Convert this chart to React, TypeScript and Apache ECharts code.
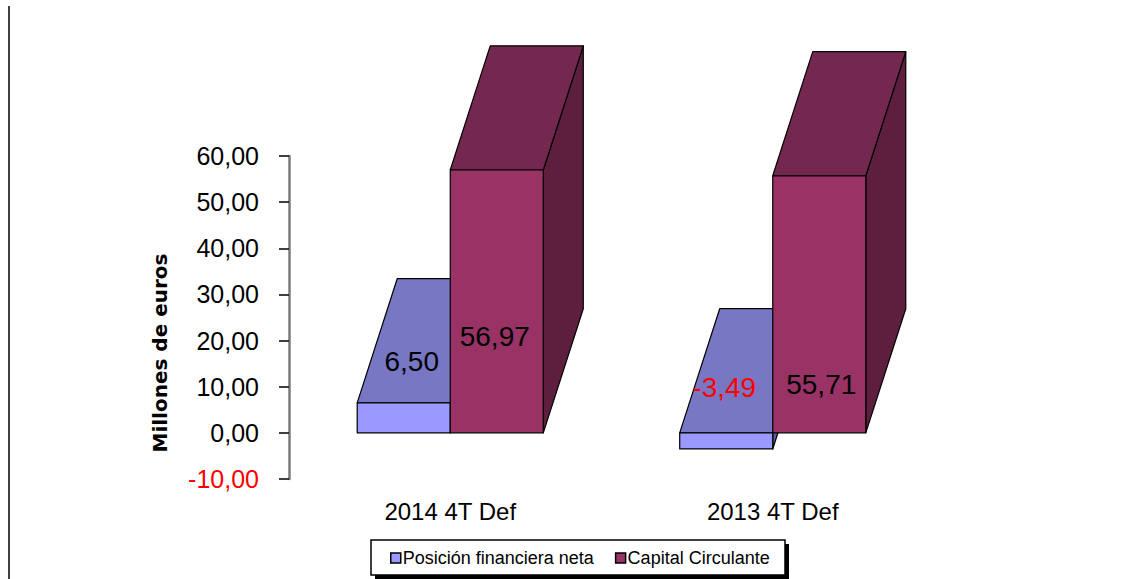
import React, { useEffect, useRef } from "react";
import * as echarts from "echarts";

// ---- data ----
const categories = ["2014 4T Def", "2013 4T Def"];
const posicionFinancieraNeta = [6.5, -3.49];
const capitalCirculante = [56.97, 55.71];
const seriesNames = ["Posición financiera neta", "Capital Circulante"];
const yAxisTitle = "Millones de euros";

// ---- styling ----
const FONT = "Liberation Sans";
const TITLE_FONT = "DejaVu Sans";
const BLUE = { front: "#9999FF", top: "#7777C4", side: "#5F5FA0" };
const PLUM = { front: "#993366", top: "#74284F", side: "#5E1F3F" };
// label nudges (px) relative to bar front centre / zero line, per series per category
const LABEL_NUDGE = [
  [{ dx: 8, lift: 71 }, { dx: -2, lift: 45 }],
  [{ dx: -2, lift: 96 }, { dx: 2, lift: 48 }],
];

const fmt = (v: number) => v.toFixed(2).replace(".", ",");

function bar3D(side: number, colors: { front: string; top: string; side: string }) {
  return (params: any, api: any) => {
    const ci = api.value(0);
    const v = api.value(1);
    const band = api.size([1, 0])[0];
    const w = band * 0.2885;
    const dx = band * 0.124;
    const dy = -band * 0.385;
    const pTop = api.coord([ci, Math.max(v, 0)]);
    const pBot = api.coord([ci, Math.min(v, 0)]);
    const pZero = api.coord([ci, 0]);
    const cx = pTop[0];
    const x0 = side === 0 ? cx - w : cx;
    const x1 = x0 + w;
    const yT = pTop[1];
    const yB = pBot[1];
    const nudge = LABEL_NUDGE[side][params.dataIndex];
    const stroke = { stroke: "#000", lineWidth: 1.2, lineJoin: "round" };
    return {
      type: "group",
      children: [
        {
          type: "polygon",
          shape: { points: [[x1, yT], [x1 + dx, yT + dy], [x1 + dx, yB + dy], [x1, yB]] },
          style: { fill: colors.side, ...stroke },
        },
        {
          type: "polygon",
          shape: { points: [[x0, yT], [x1, yT], [x1 + dx, yT + dy], [x0 + dx, yT + dy]] },
          style: { fill: colors.top, ...stroke },
        },
        {
          type: "polygon",
          shape: { points: [[x0, yT], [x1, yT], [x1, yB], [x0, yB]] },
          style: { fill: colors.front, ...stroke },
        },
        {
          type: "text",
          style: {
            text: fmt(v),
            x: (x0 + x1) / 2 + nudge.dx,
            y: pZero[1] - nudge.lift,
            fill: v < 0 ? "#FF0000" : "#000000",
            fontFamily: FONT,
            fontSize: 28,
            align: "center",
            verticalAlign: "middle",
            textAlign: "center",
            textVerticalAlign: "middle",
          },
        },
      ],
    };
  };
}

export default function App() {
  const ref = useRef<HTMLDivElement>(null);
  useEffect(() => {
    if (!ref.current) return;
    const chart = echarts.init(ref.current, undefined, { renderer: "svg" });
    chart.setOption({
      animation: false,
      backgroundColor: "#ffffff",
      grid: { left: 289, width: 645, top: 156, bottom: 100, containLabel: false },
      xAxis: {
        type: "category",
        data: categories,
        boundaryGap: true,
        axisLine: { show: false, onZero: false },
        axisTick: { show: false },
        splitLine: { show: false },
        axisLabel: { color: "#000", fontFamily: FONT, fontSize: 24, margin: 20 },
      },
      yAxis: {
        type: "value",
        min: -10,
        max: 60,
        interval: 10,
        axisLine: { show: true, lineStyle: { color: "#7a7a7a", width: 2.5 } },
        axisTick: { show: true, length: 10, lineStyle: { color: "#000", width: 1.5 } },
        splitLine: { show: false },
        axisLabel: {
          fontFamily: FONT,
          fontSize: 25,
          margin: 30,
          formatter: (val: number) => fmt(val),
          color: (val: any) => (Number(val) < 0 ? "#FF0000" : "#000000"),
        },
      },
      legend: {
        left: 390,
        top: 549,
        padding: 0,
        itemGap: 21,
        itemWidth: 10,
        itemHeight: 10,
        icon: "rect",
        z: 10,
        textStyle: { fontFamily: FONT, fontSize: 18, color: "#000", padding: [0, 0, 0, -3] },
        data: [
          { name: seriesNames[0], itemStyle: { color: BLUE.front, borderColor: "#000", borderWidth: 1.5 } },
          { name: seriesNames[1], itemStyle: { color: PLUM.front, borderColor: "#000", borderWidth: 1.5 } },
        ],
      },
      graphic: [
        { type: "line", shape: { x1: 9, y1: 6, x2: 9, y2: 579 }, style: { stroke: "#000", lineWidth: 1.5 } },
        { type: "rect", shape: { x: 375, y: 544, width: 414, height: 35 }, style: { fill: "#000" }, z: 1 },
        {
          type: "rect",
          shape: { x: 371, y: 540, width: 414, height: 35 },
          style: { fill: "#fff", stroke: "#000", lineWidth: 1.5 },
          z: 2,
        },
        {
          type: "text",
          x: 160,
          y: 353,
          rotation: Math.PI / 2,
          style: {
            text: yAxisTitle,
            fontFamily: TITLE_FONT,
            fontWeight: "bold",
            fontSize: 20,
            fill: "#000",
            align: "center",
            verticalAlign: "middle",
            textAlign: "center",
            textVerticalAlign: "middle",
          },
        },
      ],
      series: [
        {
          name: seriesNames[0],
          type: "custom",
          clip: false,
          z: 2,
          itemStyle: { color: BLUE.front },
          renderItem: bar3D(0, BLUE),
          data: posicionFinancieraNeta.map((v, i) => [i, v]),
        },
        {
          name: seriesNames[1],
          type: "custom",
          clip: false,
          z: 3,
          itemStyle: { color: PLUM.front },
          renderItem: bar3D(1, PLUM),
          data: capitalCirculante.map((v, i) => [i, v]),
        },
      ],
    });
    return () => chart.dispose();
  }, []);
  return <div ref={ref} style={{ position: "absolute", left: 0, top: 0, width: 1136, height: 579 }} />;
}
